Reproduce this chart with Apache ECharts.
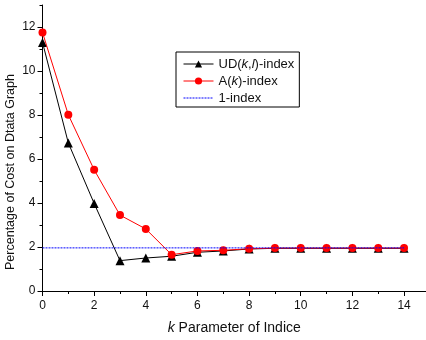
<!DOCTYPE html>
<html>
<head>
<meta charset="utf-8">
<script src="https://cdn.jsdelivr.net/npm/echarts@6/dist/echarts.min.js"></script>
<style>html,body{margin:0;padding:0;background:#fff}#c{width:426px;height:340px}</style>
</head>
<body>
<div id="c"></div>
<script>
const kValues = [0,1,2,3,4,5,6,7,8,9,10,11,12,13,14];
const udValues = [11.3,6.73,3.98,1.38,1.5,1.58,1.76,1.82,1.91,1.94,1.94,1.94,1.94,1.94,1.94];
const aValues = [11.75,8.01,5.51,3.45,2.82,1.65,1.82,1.85,1.92,1.95,1.95,1.95,1.95,1.95,1.95];
const oneIndexValues = [1.96,1.96,1.96,1.96,1.96,1.96,1.96,1.96,1.96,1.96,1.96,1.96,1.96,1.96,1.96];
const xMajorTicks = [0,2,4,6,8,10,12,14];
const xMinorTicks = [1,3,5,7,9,11,13];
const yMajorTicks = [0,2,4,6,8,10,12];
const yMinorTicks = [1,3,5,7,9,11,13];
const seriesNames = ['UD(k,l)-index','A(k)-index','1-index'];

const font = 'Liberation Sans';
const pairs = (vals) => kValues.map((k, i) => [k, vals[i]]);

const chart = echarts.init(document.getElementById('c'), null, {renderer: 'canvas'});
const baseX = {type: 'value', min: 0, max: 14.85, splitLine: {show: false}};
const baseY = {type: 'value', min: 0, max: 13, splitLine: {show: false}};
chart.setOption({
  animation: false,
  backgroundColor: '#fff',
  grid: {left: 42.5, right: 0, top: 5, bottom: 47.7, containLabel: false},
  xAxis: [
    Object.assign({}, baseX, {
      position: 'bottom',
      name: '{i|k} Parameter of Indice',
      nameLocation: 'middle',
      nameGap: 30,
      nameTextStyle: {fontFamily: font, fontSize: 14, color: '#111',
        rich: {i: {fontFamily: font, fontSize: 14, fontStyle: 'italic', color: '#111'}}},
      axisLine: {show: true, lineStyle: {color: '#000', width: 1}},
      axisTick: {show: true, inside: false, length: 5, lineStyle: {color: '#000'}, customValues: xMajorTicks},
      axisLabel: {show: true, margin: 9, fontFamily: font, fontSize: 12, color: '#111', customValues: xMajorTicks}
    }),
    Object.assign({}, baseX, {
      position: 'bottom',
      axisLine: {show: false},
      axisTick: {show: true, inside: false, length: 3, lineStyle: {color: '#000'}, customValues: xMinorTicks},
      axisLabel: {show: false}
    })
  ],
  yAxis: [
    Object.assign({}, baseY, {
      position: 'left',
      axisLine: {show: true, lineStyle: {color: '#000', width: 1}},
      axisTick: {show: true, inside: false, length: 5, lineStyle: {color: '#000'}, customValues: yMajorTicks},
      axisLabel: {show: true, margin: 7, fontFamily: font, fontSize: 12, color: '#111', customValues: yMajorTicks}
    }),
    Object.assign({}, baseY, {
      position: 'left',
      axisLine: {show: false},
      axisTick: {show: true, inside: false, length: 3, lineStyle: {color: '#000'}, customValues: yMinorTicks},
      axisLabel: {show: false}
    })
  ],
  legend: {
    left: 176, top: 52,
    orient: 'vertical',
    data: [
      {name: seriesNames[0], lineStyle: {width: 1}},
      {name: seriesNames[1], lineStyle: {width: 1}},
      {name: seriesNames[2], itemStyle: {opacity: 0}, lineStyle: {width: 1}}
    ],
    backgroundColor: '#fff',
    borderColor: '#000', borderWidth: 1,
    padding: [5, 5, 2, 7],
    itemWidth: 30, itemHeight: 9, itemGap: 3,
    textStyle: {fontFamily: font, fontSize: 13, color: '#111', lineHeight: 14,
      rich: {i: {fontFamily: font, fontSize: 13, fontStyle: 'italic', color: '#111', lineHeight: 14}}},
    formatter: function (name) {
      if (name === seriesNames[0]) return 'UD({i|k},{i|l})-index';
      if (name === seriesNames[1]) return 'A({i|k})-index';
      return name;
    }
  },
  graphic: [{
    type: 'text',
    x: 11, y: 172,
    rotation: Math.PI / 2,
    style: {text: 'Percentage of Cost on Dtata Graph', align: 'center', verticalAlign: 'middle',
      font: '12.5px "Liberation Sans"', fill: '#111'}
  }],
  series: [
    {
      name: seriesNames[0], type: 'line', xAxisIndex: 0, yAxisIndex: 0,
      data: pairs(udValues),
      symbol: 'triangle', symbolSize: 9,
      itemStyle: {color: '#000'},
      lineStyle: {color: '#000', width: 1},
      z: 2
    },
    {
      name: seriesNames[1], type: 'line', xAxisIndex: 0, yAxisIndex: 0,
      data: pairs(aValues),
      symbol: 'circle', symbolSize: 8,
      itemStyle: {color: '#ff0000'},
      lineStyle: {color: '#ff0000', width: 1},
      z: 3
    },
    {
      name: seriesNames[2], type: 'line', xAxisIndex: 0, yAxisIndex: 0,
      data: pairs(oneIndexValues),
      symbol: 'none', showSymbol: false,
      itemStyle: {color: '#0000ff'},
      lineStyle: {color: '#0000ff', width: 1, type: [2, 1]},
      z: 4
    }
  ]
});
</script>
</body>
</html>
